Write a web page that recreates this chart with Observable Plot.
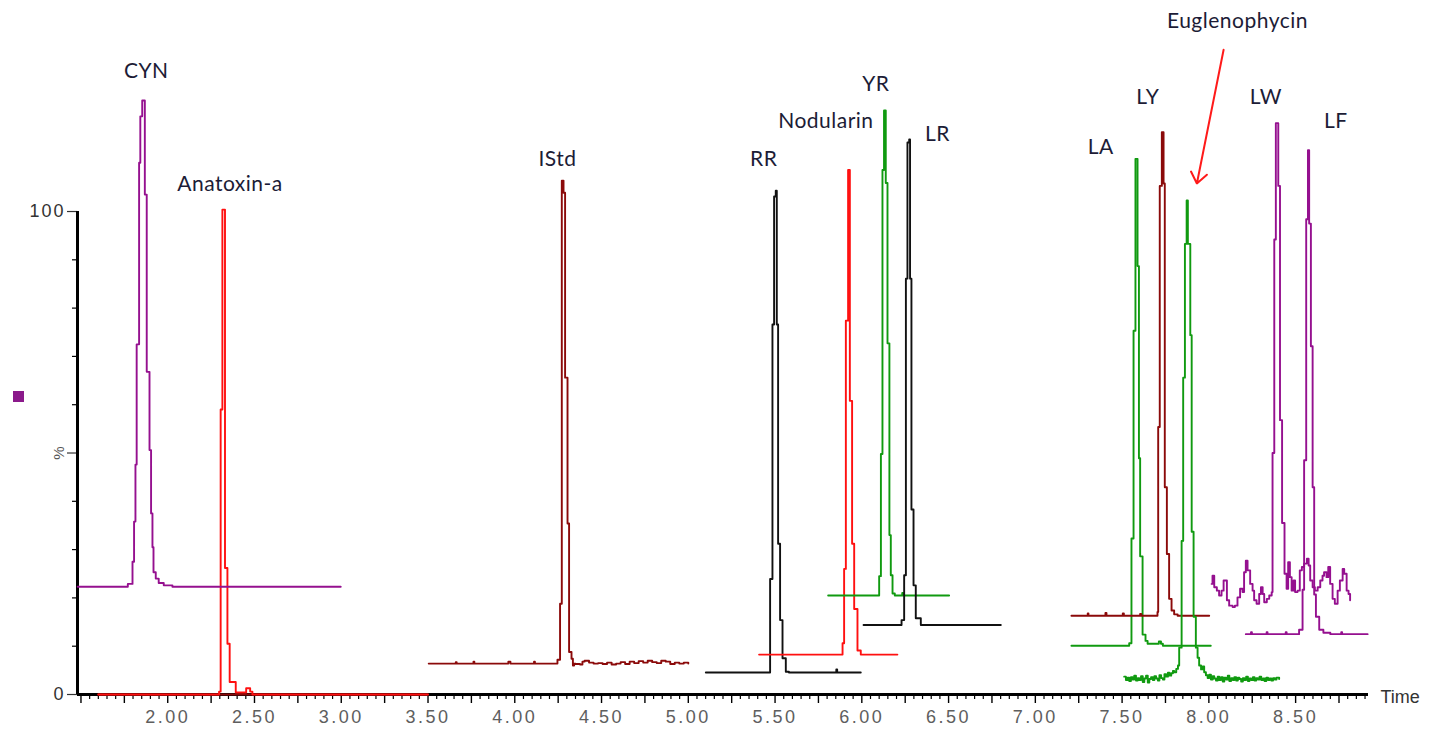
<!DOCTYPE html>
<html><head><meta charset="utf-8">
<script src="https://cdn.jsdelivr.net/npm/d3@7"></script>
<script src="https://cdn.jsdelivr.net/npm/@observablehq/plot@0.6"></script>
<style>
html,body{margin:0;padding:0;background:#fff;overflow:hidden}
#wrap{position:relative;width:1430px;height:731px}
#mark{position:absolute;left:13px;top:391px;width:11px;height:11px;background:#8b1a8b}
</style></head><body><div id="wrap"><div id="mark"></div></div>
<script>
// ---- chromatogram traces: [time (min), intensity (%)] ----
const CYN = [[1.481,22.3],[1.770,22.9],[1.797,27.5],[1.806,35.8],[1.814,47.6],[1.821,72.5],[1.835,110.1],[1.842,119.7],[1.853,123.0],[1.868,103.5],[1.879,66.8],[1.895,50.6],[1.904,37.5],[1.912,30.5],[1.918,25.3],[1.931,24.0],[1.948,23.1],[1.977,22.6],[2.027,22.3],[2.997,22.3]];
const ANATOXIN = [[1.60,0],[2.290,0],[2.296,0.6],[2.305,59.0],[2.315,100.4],[2.330,26.2],[2.344,10.5],[2.357,2.6],[2.392,0.4],[2.452,1.3],[2.475,0.6],[2.488,0],[3.50,0]];
const BASE_ZERO = [[1.60,0],[3.50,0]];
const ISTD = [[3.504,6.4],[3.655,6.4],[3.660,6.7],[3.665,6.4],[3.757,6.4],[3.762,6.8],[3.767,6.4],[3.960,6.4],[3.963,6.8],[3.975,6.4],[4.106,6.4],[4.111,6.8],[4.116,6.4],[4.240,6.4],[4.246,7.2],[4.261,18.8],[4.271,106.4],[4.281,103.9],[4.290,65.6],[4.304,35.4],[4.313,8.8],[4.327,7.4],[4.335,6.0],[4.342,6.4],[4.350,6.3],[4.376,6.2],[4.390,6.8],[4.402,7.0],[4.428,6.6],[4.454,6.4],[4.480,6.5],[4.506,6.3],[4.532,6.6],[4.558,6.2],[4.584,6.4],[4.610,6.7],[4.636,6.3],[4.662,6.8],[4.688,6.5],[4.714,6.9],[4.740,6.6],[4.766,7.0],[4.792,6.7],[4.818,6.5],[4.844,7.0],[4.870,6.8],[4.896,6.3],[4.922,6.6],[4.948,6.4],[4.974,6.6],[5.000,6.4]];
const RR = [[5.101,4.55],[5.4715,23.9],[5.485,76.6],[5.4945,103.1],[5.504,104.3],[5.510,76.6],[5.5176,31.2],[5.529,15.4],[5.543,7.5],[5.562,4.7],[5.580,4.55],[5.850,4.55],[5.853,5.2],[5.858,4.55],[5.994,4.55]];
const NODULARIN = [[5.408,8.26],[5.889,10.6],[5.898,26.0],[5.908,77.4],[5.921,108.6],[5.931,60.8],[5.944,31.2],[5.956,17.7],[5.975,9.1],[5.994,8.26],[6.205,8.26]];
const YR = [[5.806,20.5],[6.100,24.5],[6.110,49.8],[6.119,108.6],[6.128,120.9],[6.138,105.9],[6.148,72.7],[6.159,33.0],[6.167,24.7],[6.177,20.9],[6.190,20.5],[6.230,20.5],[6.233,21.0],[6.238,20.5],[6.503,20.5]];
const LR = [[6.010,14.4],[6.229,15.4],[6.244,24.7],[6.254,86.1],[6.263,114.3],[6.273,114.9],[6.278,86.1],[6.286,38.3],[6.298,22.6],[6.311,15.8],[6.340,14.4],[6.801,14.4]];
const LA = [[7.208,10.1],[7.541,10.6],[7.554,32.3],[7.566,75.3],[7.577,110.9],[7.589,88.7],[7.597,48.9],[7.604,28.6],[7.618,12.4],[7.635,11.1],[7.647,10.5],[7.706,10.5],[7.712,11.0],[7.724,10.5],[7.735,10.1],[8.011,10.1]];
const LY = [[7.208,16.3],[7.300,16.3],[7.302,16.8],[7.306,16.3],[7.400,16.3],[7.404,16.9],[7.410,16.3],[7.500,16.3],[7.504,16.8],[7.510,16.3],[7.600,16.3],[7.604,16.7],[7.610,16.3],[7.704,17.1],[7.708,55.4],[7.717,105.3],[7.729,116.4],[7.739,105.8],[7.746,42.9],[7.758,29.1],[7.771,19.8],[7.785,17.4],[7.800,16.6],[7.820,16.3],[8.002,16.3]];
const EUGLENOPHYCIN = [[7.512,3.7],[7.522,3.0],[7.532,3.5],[7.541,2.8],[7.551,3.6],[7.561,3.1],[7.570,3.9],[7.580,2.9],[7.590,3.4],[7.599,3.0],[7.609,3.8],[7.619,2.6],[7.628,3.3],[7.638,3.9],[7.648,2.5],[7.657,3.2],[7.667,3.6],[7.677,3.0],[7.686,3.8],[7.696,3.3],[7.706,2.9],[7.715,4.0],[7.725,3.4],[7.735,3.1],[7.744,4.2],[7.754,3.7],[7.764,4.5],[7.773,3.9],[7.783,4.4],[7.793,4.9],[7.800,4.6],[7.812,5.3],[7.822,6.0],[7.829,9.7],[7.843,31.8],[7.852,65.6],[7.862,93.3],[7.872,102.3],[7.879,93.3],[7.893,74.4],[7.901,33.7],[7.912,16.1],[7.925,9.7],[7.935,7.6],[7.944,6.0],[7.955,5.2],[7.964,5.8],[7.973,4.6],[7.983,4.0],[7.993,3.4],[8.002,4.1],[8.012,3.1],[8.022,3.8],[8.031,3.3],[8.041,2.9],[8.051,3.7],[8.060,3.0],[8.070,3.6],[8.080,2.7],[8.089,3.5],[8.099,3.1],[8.109,3.9],[8.118,2.8],[8.128,3.4],[8.138,3.0],[8.147,3.6],[8.157,2.9],[8.167,3.5],[8.176,3.2],[8.186,2.7],[8.196,3.4],[8.205,3.0],[8.215,3.7],[8.225,2.8],[8.234,3.3],[8.244,3.0],[8.254,3.6],[8.263,2.9],[8.273,3.4],[8.283,3.1],[8.292,3.7],[8.302,3.0],[8.312,3.3],[8.321,2.8],[8.331,3.5],[8.341,3.0],[8.350,3.3],[8.360,2.9],[8.370,3.4],[8.380,3.1],[8.390,3.5],[8.405,3.2]];
const LW = [[8.016,22.9],[8.021,24.6],[8.031,22.2],[8.046,21.5],[8.059,20.5],[8.073,21.5],[8.085,23.6],[8.104,19.5],[8.117,18.4],[8.137,18.1],[8.150,18.4],[8.165,20.1],[8.180,21.9],[8.194,21.2],[8.203,25.3],[8.213,27.7],[8.223,25.7],[8.238,22.9],[8.252,21.5],[8.261,19.5],[8.275,18.8],[8.290,20.8],[8.300,22.2],[8.310,20.8],[8.319,19.1],[8.334,19.8],[8.348,20.5],[8.362,21.2],[8.367,50.0],[8.377,94.2],[8.386,118.3],[8.400,105.3],[8.410,56.8],[8.422,35.5],[8.436,25.0],[8.448,21.9],[8.457,27.4],[8.467,24.3],[8.477,21.5],[8.488,23.6],[8.497,21.2],[8.511,21.5],[8.524,25.7],[8.536,26.4],[8.549,27.1],[8.565,28.1],[8.575,26.7],[8.584,23.6],[8.598,22.2],[8.611,21.5],[8.627,22.2],[8.642,23.6],[8.655,24.6],[8.664,25.3],[8.678,24.3],[8.688,26.4],[8.699,22.9],[8.713,19.8],[8.726,18.8],[8.742,21.5],[8.755,23.6],[8.771,26.0],[8.780,25.0],[8.794,21.5],[8.805,20.8],[8.814,19.5]];
const LF = [[8.213,12.5],[8.240,12.5],[8.243,12.9],[8.248,12.5],[8.330,12.5],[8.333,12.9],[8.338,12.5],[8.440,12.5],[8.443,12.9],[8.448,12.5],[8.520,13.4],[8.540,21.7],[8.549,48.5],[8.561,98.4],[8.571,112.7],[8.578,97.5],[8.588,72.1],[8.598,42.9],[8.607,20.7],[8.617,16.1],[8.636,13.4],[8.660,12.8],[8.700,12.5],[8.760,12.5],[8.763,12.9],[8.768,12.5],[8.915,12.5]];

// ---- peak labels ----
const labelNames = ["CYN","Anatoxin-a","IStd","RR","Nodularin","YR","LR","LA","LY","Euglenophycin","LW","LF"];
const labelTimes = [1.876,2.359,4.246,5.435,5.793,6.081,6.436,7.377,7.648,8.165,8.329,8.732];
const labelLevels = [129.0,105.6,110.8,110.8,118.6,126.3,116.0,113.3,123.6,139.3,123.6,118.6];

// ---- arrow pointing to Euglenophycin ----
const arrowFrom = [8.085,133.5];
const arrowTo = [7.931,105.8];

// ---- axes ----
const xTickLabels = ["2.00","2.50","3.00","3.50","4.00","4.50","5.00","5.50","6.00","6.50","7.00","7.50","8.00","8.50"];
const yTickLabels = ["0","100"];
const xDomain = [1.48, 8.92];
const yDomain = [0, 143.69];

const PURPLE = "#95108f", RED = "#ff1010", MAROON = "#8b0a0a", GREEN = "#109a10", BLACK = "#111111";
const traces = [
  {data: BASE_ZERO, color: MAROON},
  {data: ANATOXIN, color: RED},
  {data: CYN, color: PURPLE},
  {data: ISTD, color: MAROON},
  {data: RR, color: BLACK},
  {data: NODULARIN, color: RED},
  {data: YR, color: GREEN},
  {data: LR, color: BLACK},
  {data: LA, color: GREEN},
  {data: LY, color: MAROON},
  {data: EUGLENOPHYCIN, color: GREEN},
  {data: LF, color: PURPLE},
  {data: LW, color: PURPLE}
];

const xMinor = d3.range(30, 179).map(i => i * 0.05).filter(t => Math.abs(t * 4 - Math.round(t * 4)) > 1e-6);
const xMajor = d3.range(6, 36).map(i => i * 0.25);
const yMinor = d3.range(0, 11).map(i => i * 10).filter(v => v !== 0 && v !== 50 && v !== 100);
const xLabelVals = xTickLabels.map(Number);
const yLabelVals = yTickLabels.map(Number);

const labels = labelNames.map((s, i) => ({s, t: labelTimes[i], v: labelLevels[i]}));
const tickFont = "Liberation Sans, Arial, sans-serif";

const marks = [
  Plot.axisX({ticks: xMinor, tickSize: 5, tickFormat: () => "", stroke: "#000", strokeWidth: 1.2, label: null}),
  Plot.axisX({ticks: xMajor, tickSize: 9, tickFormat: () => "", stroke: "#000", strokeWidth: 1.4, label: null}),
  Plot.axisX({ticks: xLabelVals, tickSize: 0, tickPadding: 16, tickFormat: (d, i) => xTickLabels[xLabelVals.indexOf(d)], fontSize: 18, fontFamily: tickFont, color: "#5e5e5e", label: null}),
  Plot.axisY({ticks: yMinor, tickSize: 5, tickFormat: () => "", stroke: "#000", strokeWidth: 1.2, label: null}),
  Plot.axisY({ticks: [0, 50, 100], tickSize: 10, tickPadding: 2, tickFormat: d => { const k = yLabelVals.indexOf(d); return k < 0 ? "" : yTickLabels[k]; }, fontSize: 18, fontFamily: tickFont, color: "#333", strokeWidth: 1.2, label: null}),
  Plot.text([{t: xDomain[0], v: 50, s: "%"}], {x: "t", y: "v", text: "s", rotate: -90, dx: -18, fontSize: 15, fontFamily: tickFont, fill: "#555"}),
  Plot.ruleY([0], {stroke: "#000", strokeWidth: 3}),
  Plot.ruleX([xDomain[0]], {y1: 0, y2: 100, stroke: "#000", strokeWidth: 3}),
  Plot.text([{t: xDomain[1], v: 0, s: "Time"}], {x: "t", y: "v", text: "s", textAnchor: "start", dx: 12, dy: 3, fontSize: 18, fontFamily: tickFont, fill: "#333"}),
  ...traces.map(tr => Plot.line(tr.data, {x: d => d[0], y: d => d[1], stroke: tr.color, strokeWidth: 1.9, curve: "step-after"})),
  Plot.text(labels, {x: "t", y: "v", text: "s", fontSize: 21, fontFamily: "Lato, Open Sans, sans-serif", fill: "#1c1c36"}),
  Plot.arrow([{x1: arrowFrom[0], y1: arrowFrom[1], x2: arrowTo[0], y2: arrowTo[1]}], {x1: "x1", y1: "y1", x2: "x2", y2: "y2", stroke: "#ff1a1a", strokeWidth: 2, headLength: 10, headAngle: 75})
];

const svg = Plot.plot({
  width: 1430, height: 731,
  marginLeft: 77, marginRight: 62, marginTop: 0, marginBottom: 37,
  x: {domain: xDomain, axis: null},
  y: {domain: yDomain, axis: null},
  style: {background: "#fff", overflow: "visible"},
  marks
});
d3.select(svg).selectAll('g[aria-label="x-axis tick label"] text').style("letter-spacing", "2.5px");
d3.select(svg).selectAll('g[aria-label="y-axis tick label"] text').style("letter-spacing", "2px");
d3.select(svg).selectAll('g[aria-label="text"] text').filter(function(){ return this.textContent.length > 1 && this.textContent !== "Time"; }).style("letter-spacing", "0.5px");
document.getElementById("wrap").appendChild(svg);
</script></body></html>
